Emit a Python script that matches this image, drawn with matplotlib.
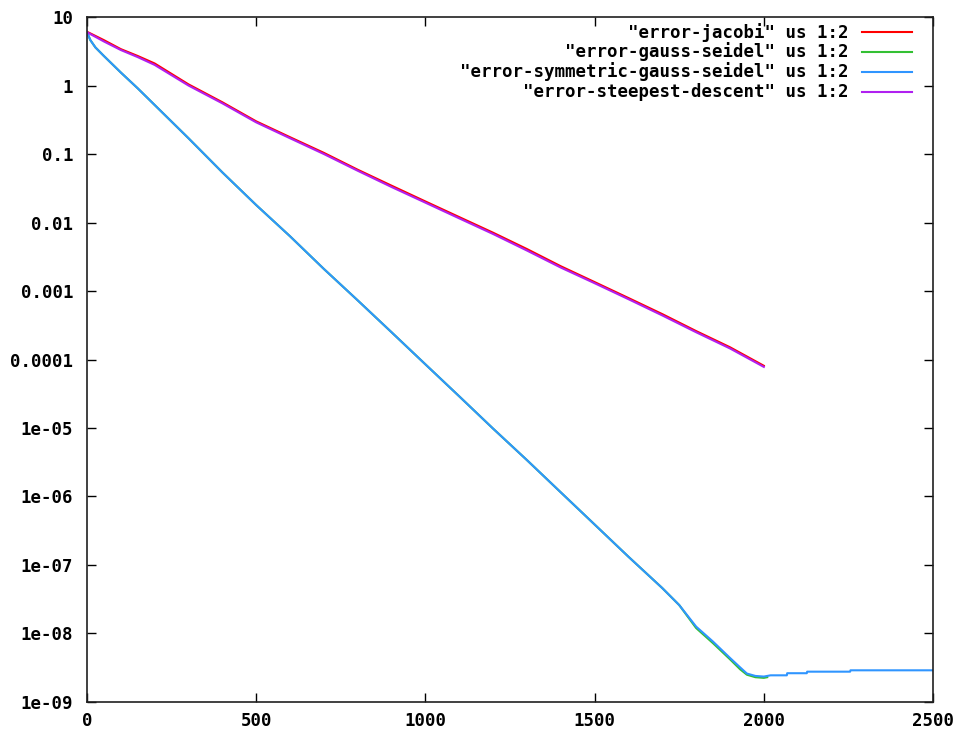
import numpy as np
import matplotlib
matplotlib.use('Agg')
import matplotlib.pyplot as plt

# error vs iteration
it_slow = [0, 50, 100, 150, 200, 300, 400, 500, 600, 700, 800, 900, 1000,
           1100, 1200, 1300, 1400, 1500, 1600, 1700, 1800, 1900, 2000]
err_steepest = [6.0, 4.4, 3.3, 2.6, 2.0, 1.0, 0.55, 0.29, 0.17, 0.10, 0.057,
                0.033, 0.0195, 0.0115, 0.0068, 0.0039, 0.0022, 0.0013,
                0.00076, 0.00044, 0.00025, 0.000145, 0.000078]
err_jacobi = [6.1, 4.6, 3.4, 2.7, 2.1, 1.04, 0.57, 0.30, 0.176, 0.104, 0.059,
              0.0345, 0.0203, 0.012, 0.0071, 0.0041, 0.0023, 0.00135,
              0.00079, 0.00046, 0.00026, 0.000151, 0.000081]

it_gs = [0, 10, 25, 50, 100, 150, 200, 300, 400, 500, 600, 700, 800, 900, 1000,
         1100, 1200, 1300, 1400, 1500, 1600, 1700, 1750, 1800, 1850, 1900,
         1930, 1950, 1975, 2000, 2010]
err_gs = [6.0, 4.6, 3.6, 2.7, 1.55, 0.91, 0.52, 0.17, 0.054, 0.018, 0.0063,
          0.0021, 0.00073, 0.00025, 8.5e-5, 2.9e-5, 9.8e-6, 3.4e-6, 1.15e-6,
          3.9e-7, 1.32e-7, 4.6e-8, 2.6e-8, 1.2e-8, 7.2e-9, 4.2e-9, 3.0e-9,
          2.5e-9, 2.3e-9, 2.25e-9, 2.3e-9]

it_sgs = [0, 10, 25, 50, 100, 150, 200, 300, 400, 500, 600, 700, 800, 900,
          1000, 1100, 1200, 1300, 1400, 1500, 1600, 1700, 1750, 1800, 1850,
          1900, 1930, 1950, 1975, 2000, 2020, 2068, 2069, 2127, 2128, 2255,
          2256, 2500]
err_sgs = [6.0, 4.6, 3.6, 2.7, 1.55, 0.91, 0.52, 0.17, 0.054, 0.018, 0.0063,
           0.0021, 0.00073, 0.00025, 8.5e-5, 2.9e-5, 9.8e-6, 3.4e-6, 1.15e-6,
           3.9e-7, 1.32e-7, 4.6e-8, 2.6e-8, 1.26e-8, 7.6e-9, 4.4e-9, 3.2e-9,
           2.6e-9, 2.4e-9, 2.35e-9, 2.45e-9, 2.45e-9, 2.63e-9, 2.63e-9,
           2.77e-9, 2.77e-9, 2.9e-9, 2.9e-9]

names = ['"error-jacobi" us 1:2', '"error-gauss-seidel" us 1:2',
         '"error-symmetric-gauss-seidel" us 1:2', '"error-steepest-descent" us 1:2']
colors = ['#ff0000', '#33c033', '#2f95ff', '#b020f0']

xticks = [0, 500, 1000, 1500, 2000, 2500]
yticks = [1e-9, 1e-8, 1e-7, 1e-6, 1e-5, 1e-4, 1e-3, 1e-2, 1e-1, 1, 10]
ylabels = ['1e-09', '1e-08', '1e-07', '1e-06', '1e-05', '0.0001', '0.001',
           '0.01', '0.1', '1', '10']

font = dict(family='DejaVu Sans Mono', weight='bold', size=12.5)

fig = plt.figure(figsize=(9.62, 7.31), dpi=100)
ax = fig.add_axes([0.0904, 0.0397, 0.8795, 0.9370])

series = [(it_slow, err_jacobi), (it_gs, err_gs), (it_sgs, err_sgs),
          (it_slow, err_steepest)]
for (x, y), c in zip(series, colors):
    ax.plot(x, y, color=c, lw=1.5)

ax.set_yscale('log')
ax.set_xlim(0, 2500)
ax.set_ylim(1e-9, 10)
ax.set_xticks(xticks)
ax.set_xticklabels([str(t) for t in xticks], **font)
ax.set_yticks(yticks)
ax.set_yticklabels(ylabels, **font)
ax.minorticks_off()
ax.tick_params(direction='in', length=6.5, width=1, top=True, right=True)
ax.tick_params(axis='y', pad=10)
ax.tick_params(axis='x', pad=7)
for s in ax.spines.values():
    s.set_linewidth(1.2)
    s.set_color('#202020')

# gnuplot style key: right aligned text, sample line on the right
rows = [0.978, 0.949, 0.920, 0.891]
for name, c, yy in zip(names, colors, rows):
    ax.text(0.8995, yy, name, transform=ax.transAxes, ha='right', va='center', **font)
    ax.plot([0.916, 0.975], [yy, yy], transform=ax.transAxes, color=c, lw=1.5)

fig.savefig('out.png', dpi=100)
